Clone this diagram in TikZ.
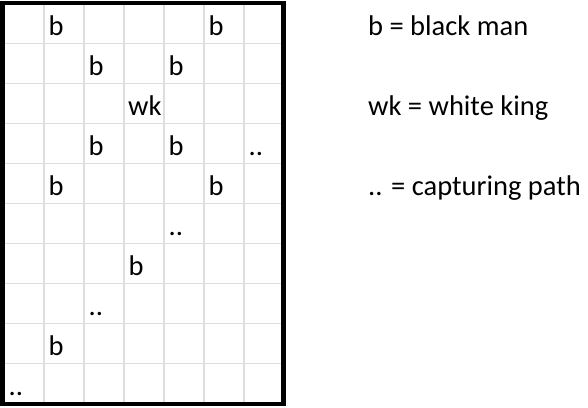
\documentclass[tikz,border=0pt]{standalone}
\usepackage{fontspec}
\setmainfont{Carlito}
\usetikzlibrary{positioning}
\definecolor{gridgray}{HTML}{DDDDDD}
\tikzset{
  cellline/.style={draw=gridgray,line width=1.7pt},
  board/.style={draw=black,line width=4.6pt},
  piece/.style={anchor=base west,inner sep=0pt,font=\fontsize{28.5}{34}\selectfont},
  keytext/.style={anchor=base west,inner sep=0pt,font=\fontsize{28.5}{34}\selectfont}
}

\begin{document}
\begin{tikzpicture}[x=1pt,y=-1pt]
\useasboundingbox (0,0) rectangle (588,407);
% light cell grid
\foreach \i in {1,...,6}
  \draw[cellline] (4+40*\i,3.5) -- (4+40*\i,403.5);
\foreach \j in {1,...,9}
  \draw[cellline] (4,3.5+40*\j) -- (284,3.5+40*\j);
% outer frame
\draw[board] (2.3,3) rectangle (283.3,404);
% black men
\node[piece] (b1) at (48.5,35.5) {b};
\node[piece] (b2) at (208.5,35.5) {b};
\node[piece] (b3) at (88.5,75.5) {b};
\node[piece] (b4) at (168.5,75.5) {b};
\node[piece] (b5) at (88.5,155.5) {b};
\node[piece] (b6) at (168.5,155.5) {b};
\node[piece] (b7) at (48.5,195.5) {b};
\node[piece] (b8) at (208.5,195.5) {b};
\node[piece] (b9) at (128.5,275.5) {b};
\node[piece] (b10) at (48.5,355.5) {b};
% white king
\node[piece] (wk) at (128,115.5) {wk};
% capturing path
\node[piece] (p1) at (248.5,155.5) {..};
\node[piece] (p2) at (168.5,235.5) {..};
\node[piece] (p3) at (88.5,315.5) {..};
\node[piece] (p4) at (8.5,395.5) {..};
% key
\node[keytext] (keyman) at (368,35.5) {b = black man};
\node[keytext] (keyking) at (368,115.5) {wk = white king};
\node[keytext] (keypath) at (368,195.5) {.. = capturing path};
\end{tikzpicture}
\end{document}
